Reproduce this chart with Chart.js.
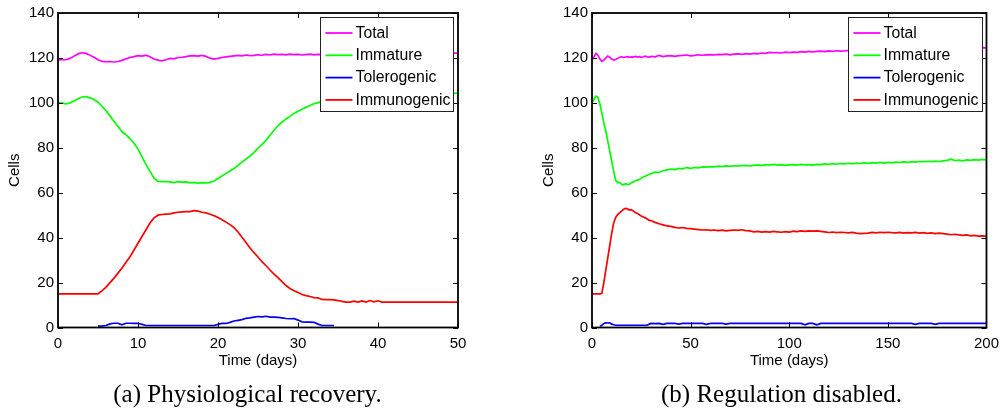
<!DOCTYPE html>
<html><head><meta charset="utf-8">
<script src="https://cdn.jsdelivr.net/npm/chart.js@4"></script>
<style>
html,body{margin:0;padding:0;background:#fff;}
#wrap{position:relative;width:1006px;height:412px;overflow:hidden;background:#fff;}
canvas{position:absolute;top:0;}
#cA{left:0;} #cB{left:503px;}
.cap{position:absolute;top:379px;height:30px;line-height:30px;font-family:"Liberation Serif","Times New Roman",serif;font-size:25px;color:#000;text-align:center;white-space:nowrap;}
</style></head>
<body><div id="wrap">
<canvas id="cA" width="503" height="412"></canvas>
<canvas id="cB" width="503" height="412"></canvas>
<div class="cap" style="left:0;width:495px">(a) Physiological recovery.</div>
<div class="cap" style="left:533px;width:497px">(b) Regulation disabled.</div>
</div>
<script>
// Series names, shared by both panels
const seriesNames = ['Total', 'Immature', 'Tolerogenic', 'Immunogenic'];
const seriesColors = ['#ff00ff', '#00ff00', '#0000ff', '#ff0000'];
const cellTicks = [0, 20, 40, 60, 80, 100, 120, 140];

// Panel (a): sample times in days
const recoveryDays = [0,0.5,1,1.5,2,2.5,3,3.5,4,4.5,5,5.5,6,6.5,7,7.5,8,8.5,9,9.5,10,10.5,11,11.5,12,12.5,13,13.5,14,14.5,15,15.5,16,16.5,17,17.5,18,18.5,19,19.5,20,20.5,21,21.5,22,22.5,23,23.5,24,24.5,25,25.5,26,26.5,27,27.5,28,28.5,29,29.5,30,30.5,31,31.5,32,32.5,33,33.5,34,34.5,35,35.5,36,36.5,37,37.5,38,38.5,39,39.5,40,40.5,41,41.5,42,42.5,43,43.5,44,44.5,45,45.5,46,46.5,47,47.5,48,48.5,49,49.5,50];
const recoveryTotal = [119.0,119.3,119.2,119.8,120.8,121.8,122.3,122.0,121.2,120.3,119.2,118.5,118.3,118.4,118.2,118.4,118.9,119.6,120.2,120.6,121.0,120.8,121.2,120.5,119.5,119.0,118.7,119.2,119.8,119.6,120.2,120.3,120.6,120.9,121.0,120.8,121.1,120.7,119.9,119.5,119.8,120.2,120.5,120.7,120.9,121.1,120.9,121.3,121.0,121.1,121.4,121.2,121.6,121.3,121.7,121.5,121.6,121.4,121.7,121.5,121.6,121.3,121.5,121.7,121.4,121.6,121.5,121.7,121.6,121.8,121.5,121.7,121.6,121.8,121.7,121.9,121.6,121.8,121.9,121.7,121.9,122.0,121.8,122.0,121.9,122.1,121.9,122.0,122.2,122.0,122.1,122.2,122.0,122.2,122.1,122.3,122.1,122.2,122.3,122.1,122.2];
const recoveryImmature = [100.0,100.0,99.5,100.0,100.8,101.8,102.6,102.8,102.2,101.5,100.3,98.5,96.5,94.2,91.8,89.5,87.2,85.8,84.0,82.0,79.5,76.0,72.5,69.5,66.5,65.0,64.9,65.0,64.8,64.5,64.9,64.7,64.8,64.4,64.6,64.3,64.5,64.4,64.6,65.2,66.3,67.5,68.6,69.7,70.8,72.2,73.6,75.0,76.3,78.0,79.8,81.5,83.3,85.6,87.8,89.8,91.5,92.8,94.0,95.3,96.3,97.2,98.0,98.8,99.6,100.1,100.6,101.0,101.3,101.5,101.8,102.0,102.1,102.3,102.4,102.6,102.7,102.8,103.0,103.1,103.2,103.3,103.3,103.4,103.5,103.5,103.6,103.6,103.7,103.7,103.8,103.8,103.9,103.9,104.0,104.0,104.1,104.1,104.2,104.2,104.3];
const recoveryTolerogenic = [null,null,null,null,null,null,null,null,null,null,0.6,0.7,0.9,1.6,1.9,1.9,1.2,1.9,1.9,1.8,1.9,1.4,0.9,0.9,0.9,0.9,0.9,0.9,0.9,0.9,0.9,0.9,0.9,0.9,0.9,0.9,0.9,0.9,0.9,0.9,1.4,1.8,1.8,2.3,2.9,3.2,3.5,4.1,4.3,4.6,4.9,4.7,5.0,4.6,4.6,4.5,4.3,4.0,3.9,4.0,3.3,2.5,2.4,2.4,2.3,1.5,0.9,0.9,0.9,0.9,null,null,null,null,null,null,null,null,null,null,null,null,null,null,null,null,null,null,null,null,null,null,null,null,null,null,null,null,null,null,null];
const recoveryImmunogenic = [15,15,15,15,15,15,15,15,15,15,15,16.3,18.0,20.0,22.0,24.2,26.5,29.0,31.5,34.5,37.5,40.5,43.5,46.5,48.8,50.0,50.3,50.5,50.6,51.0,51.3,51.5,51.6,51.6,52.0,51.8,51.3,51.0,50.4,49.8,49.0,48.0,46.9,45.8,44.5,42.5,40.2,37.8,35.4,33.3,31.4,29.3,27.5,25.6,23.8,22.2,20.4,18.7,17.4,16.4,15.6,14.7,14.2,13.8,13.3,13.2,12.5,12.4,12.4,12.3,12.0,11.6,11.3,11.3,11.7,11.3,11.8,11.3,12.0,11.4,11.9,11.3,11.3,11.3,11.3,11.3,11.3,11.3,11.3,11.3,11.3,11.3,11.3,11.3,11.3,11.3,11.3,11.3,11.3,11.3,11.3];

// Panel (b): sample times in days
const disabledDays = [0,1,2,3,4,5,6,7,8,9,10,11,12,13,14,15,16,17,18,19,20,21,22,23,24,25,26,27,28,29,30,32,34,36,38,40,42,44,46,48,50,52,54,56,58,60,62,64,66,68,70,72,74,76,78,80,82,84,86,88,90,92,94,96,98,100,102,104,106,108,110,112,114,116,118,120,122,124,126,128,130,132,134,136,138,140,142,144,146,148,150,152,154,156,158,160,162,164,166,168,170,172,174,176,178,180,182,184,186,188,190,192,194,196,198,200];
const disabledTotal = [119.0,120.5,122.0,121.2,119.5,118.5,119.0,120.0,120.8,120.3,119.5,119.0,119.3,119.8,120.3,120.5,120.2,120.4,120.6,120.3,120.5,120.4,120.7,120.4,120.6,120.3,120.5,120.8,120.5,120.4,120.7,
  120.5,121.1,120.6,120.9,121.0,120.7,121.0,121.1,121.3,120.9,
  121.1,121.4,121.2,121.4,121.5,121.3,121.6,121.5,121.7,121.4,
  121.7,121.8,121.6,121.9,121.7,122.0,121.8,122.2,122.0,122.5,
  122.3,122.4,122.2,122.6,122.4,122.6,122.5,122.8,122.6,122.9,
  122.7,122.9,123.0,122.8,123.1,122.9,123.2,123.0,123.1,123.3,
  123.2,123.4,123.3,123.5,123.4,123.6,123.5,123.7,123.6,123.8,
  123.7,123.9,123.8,124.0,123.9,124.0,124.1,124.0,124.2,124.1,
  124.3,124.2,124.4,124.3,124.4,124.5,124.3,124.5,124.4,124.6,
  124.5,124.6,124.4,124.6,124.5];
const disabledImmature = [100.0,101.5,103.0,102.5,99.5,95.5,91.0,87.5,83.0,78.5,74.0,69.5,65.5,64.5,64.6,63.8,63.5,64.0,63.6,63.8,64.5,64.8,65.3,65.6,65.9,66.5,67.0,67.3,67.8,68.2,68.5,
  69.2,69.0,69.8,70.2,70.5,70.3,70.8,70.6,71.2,70.8,
  71.3,71.1,71.5,71.4,71.6,71.5,71.8,71.6,71.9,71.7,
  72.0,71.8,72.1,72.2,71.9,72.2,72.4,72.1,72.5,72.3,
  72.6,72.3,72.5,72.2,72.4,72.5,72.3,72.6,72.4,72.5,
  72.3,72.6,72.5,72.8,72.6,72.9,72.7,73.0,72.8,73.1,
  72.9,73.2,73.0,73.3,73.1,73.4,73.2,73.5,73.2,73.5,
  73.3,73.6,73.4,73.7,73.5,73.8,73.6,73.9,73.8,74.0,
  73.8,74.1,73.9,74.2,74.4,74.9,74.3,74.5,74.2,74.6,
  74.4,74.7,74.5,74.8,74.6];
const disabledTolerogenic = [null,null,null,null,0.5,1.0,1.8,2.1,2.0,2.1,1.5,1.2,1.0,1.0,1.0,1.0,1.0,1.0,1.0,1.0,1.0,1.0,1.0,1.0,1.0,1.0,1.0,1.0,1.0,1.5,1.8,
  1.7,1.8,1.4,1.8,1.9,1.8,1.5,1.8,1.9,1.8,
  1.8,1.9,1.8,1.4,1.8,1.9,1.8,1.8,1.5,1.8,
  1.9,1.8,1.8,1.9,1.8,1.8,1.8,1.9,1.8,1.8,
  1.8,1.8,1.9,1.8,1.8,1.8,1.9,1.8,1.2,1.8,
  1.8,1.2,1.8,1.8,1.8,1.8,1.8,1.8,1.8,1.8,
  1.8,1.8,1.8,1.8,1.8,1.8,1.8,1.8,1.8,1.8,
  1.8,1.8,1.8,1.8,1.8,1.8,1.4,1.8,1.8,1.8,
  1.8,1.4,1.8,1.8,1.8,1.8,1.8,1.8,1.8,1.8,
  1.8,1.8,1.8,1.8,1.8];
const disabledImmunogenic = [15,15,15,15,15,15.2,20.0,25.5,31.0,36.5,42.0,46.5,49.0,50.3,51.0,51.8,52.6,53.0,52.8,52.3,52.5,51.8,51.2,50.8,50.2,49.6,49.2,48.8,48.3,47.7,47.5,
  46.8,46.2,45.7,45.2,45.0,44.6,44.3,44.5,44.1,44.0,
  43.8,43.6,43.4,43.5,43.2,43.4,43.1,43.3,43.0,43.2,
  43.4,43.2,43.5,43.1,43.0,42.6,42.8,42.5,42.7,42.5,
  42.8,42.6,42.4,42.7,42.5,42.9,42.7,43.0,42.8,43.0,
  42.9,43.0,42.8,42.6,42.3,42.5,42.2,42.4,42.3,42.1,
  42.3,42.0,41.8,41.9,42.0,42.3,42.1,42.4,42.2,42.4,
  42.2,42.1,42.3,42.0,42.2,42.1,42.3,42.0,42.2,41.9,
  42.1,41.8,42.0,41.8,41.6,41.3,41.5,41.2,41.0,41.2,
  40.8,41.0,40.7,40.8,40.6];

const SANS = '"Liberation Sans", Arial, Helvetica, sans-serif';

function points(days, values) {
  return days.map((d, i) => ({ x: d, y: values[i] }));
}

// Box frame, inward tick marks and a boxed legend drawn over the plot
const framePlugin = {
  id: 'frameBox',
  afterDatasetsDraw(chart, args, opts) {
    const { ctx, chartArea: a, scales: { x, y } } = chart;
    ctx.save();
    ctx.strokeStyle = '#000';
    ctx.lineWidth = 1;
    ctx.beginPath();
    x.ticks.forEach(t => {
      const px = Math.round(x.getPixelForValue(t.value)) + 0.5;
      ctx.moveTo(px, a.bottom); ctx.lineTo(px, a.bottom - 5);
      ctx.moveTo(px, a.top); ctx.lineTo(px, a.top + 5);
    });
    y.ticks.forEach(t => {
      const py = Math.round(y.getPixelForValue(t.value)) + 0.5;
      ctx.moveTo(a.left, py); ctx.lineTo(a.left + 5, py);
      ctx.moveTo(a.right, py); ctx.lineTo(a.right - 5, py);
    });
    ctx.stroke();
    ctx.lineWidth = 1.8;
    ctx.strokeRect(a.left, a.top, a.right - a.left, a.bottom - a.top);

    // legend
    const w = opts.width, h = 94;
    const lx = Math.round(a.right - opts.gap - w) + 0.5, ly = Math.round(a.top + 4) + 0.5;
    ctx.fillStyle = '#fff';
    ctx.fillRect(lx, ly, w, h);
    ctx.lineWidth = 1;
    ctx.strokeStyle = '#222';
    ctx.strokeRect(lx, ly, w, h);
    ctx.font = '15.8px ' + SANS;
    ctx.textBaseline = 'middle';
    ctx.textAlign = 'left';
    chart.data.datasets.forEach((ds, i) => {
      const cy = ly + 15.5 + i * 22.3;
      ctx.strokeStyle = ds.borderColor;
      ctx.lineWidth = 1.8;
      ctx.beginPath();
      ctx.moveTo(lx + 5, cy); ctx.lineTo(lx + 32, cy);
      ctx.stroke();
      ctx.fillStyle = '#000';
      ctx.fillText(ds.label, lx + 35, cy + 0.5);
    });
    ctx.restore();
  }
};

function makePanel(canvasId, days, series, xMax, xStep, padLeft, padRight, legendWidth, legendGap) {
  const datasets = series.map((vals, i) => ({
    label: seriesNames[i],
    data: points(days, vals),
    borderColor: seriesColors[i],
    backgroundColor: seriesColors[i],
    borderWidth: 1.7,
    pointRadius: 0,
    tension: 0,
    spanGaps: false,
    fill: false
  }));
  return new Chart(document.getElementById(canvasId), {
    type: 'line',
    data: { datasets },
    plugins: [framePlugin],
    options: {
      responsive: false,
      animation: false,
      events: [],
      layout: { padding: { top: 13, right: padRight, bottom: 0, left: padLeft } },
      plugins: {
        legend: { display: false },
        tooltip: { enabled: false },
        frameBox: { width: legendWidth, gap: legendGap }
      },
      scales: {
        x: {
          type: 'linear', min: 0, max: xMax,
          afterBuildTicks(s) { s.ticks = []; for (let v = 0; v <= xMax; v += xStep) s.ticks.push({ value: v }); },
          ticks: { color: '#000', font: { family: SANS, size: 15 }, padding: 7, maxRotation: 0, autoSkip: false },
          grid: { display: false, drawTicks: false },
          border: { display: false },
          title: { display: true, text: 'Time (days)', color: '#000', font: { family: SANS, size: 15 }, padding: { top: 0, bottom: 42 } },
          afterFit(s) { s.height = 84.5; }
        },
        y: {
          type: 'linear', min: 0, max: 140,
          afterBuildTicks(s) { s.ticks = cellTicks.map(v => ({ value: v })); },
          ticks: { color: '#000', font: { family: SANS, size: 15 }, padding: 4 },
          grid: { display: false, drawTicks: false },
          border: { display: false },
          title: { display: true, text: 'Cells', color: '#000', font: { family: SANS, size: 15 }, padding: { top: 6, bottom: 0 } },
          afterFit(s) { s.width = 58; }
        }
      }
    }
  });
}

makePanel('cA', recoveryDays, [recoveryTotal, recoveryImmature, recoveryTolerogenic, recoveryImmunogenic], 50, 10, 0, 45, 133, 5);
makePanel('cB', disabledDays, [disabledTotal, disabledImmature, disabledTolerogenic, disabledImmunogenic], 200, 50, 31, 15, 134, 4);
</script>
</body></html>
